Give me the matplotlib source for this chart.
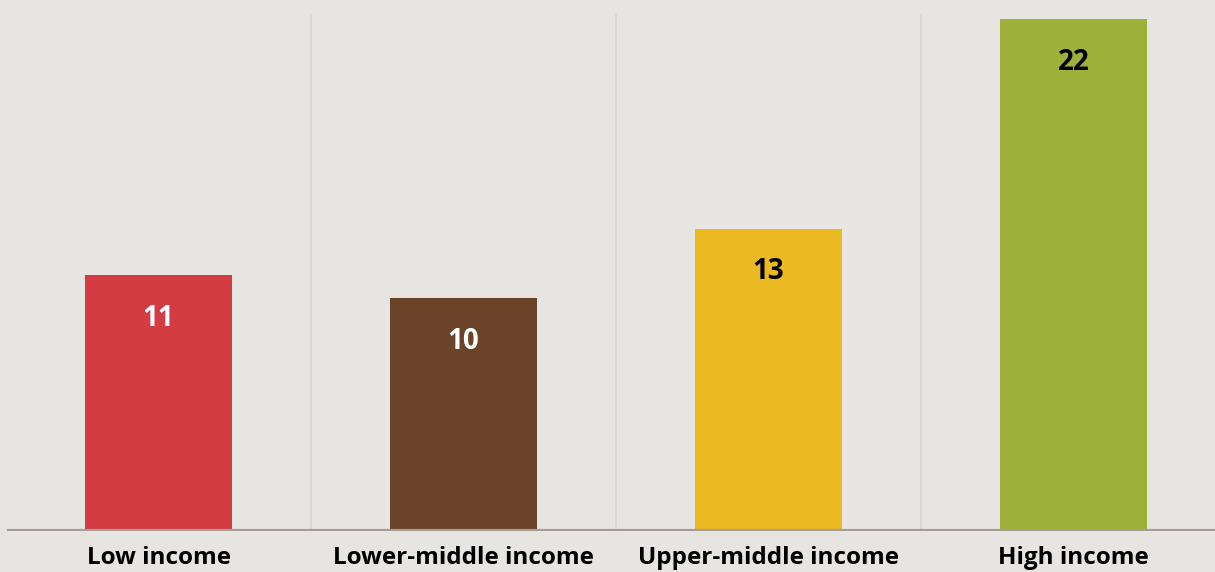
import matplotlib
matplotlib.use("Agg")
import matplotlib.pyplot as plt

categories = ["Low income", "Lower-middle income", "Upper-middle income", "High income"]
values = [11, 10, 13, 22]
bar_colors = ["#d33c42", "#6b4328", "#ebb922", "#9db13a"]
value_colors = ["white", "white", "black", "black"]

bg = "#e6e5e1"
plt.rcParams["font.family"] = ["Open Sans", "DejaVu Sans"]

fig = plt.figure(figsize=(12.15, 5.72), dpi=100, facecolor=bg)
ax = fig.add_axes([0, 41 / 572, 1, 531 / 572])
ax.set_facecolor(bg)

x = range(len(categories))
ax.bar(x, values, width=0.482, color=bar_colors, zorder=2)

# separators between groups
for i in range(len(categories) - 1):
    ax.vlines(i + 0.5, 0, 22.2, color="#d8d6d2", lw=1.2, zorder=1)

ax.axhline(0, xmin=9 / 1215, xmax=1, color="#a69c98", lw=3, zorder=3)

for i, v in enumerate(values):
    ax.annotate(str(v), (i, v), xytext=(0, -31), textcoords="offset points",
                ha="center", va="center", fontsize=20, fontweight="bold",
                color=value_colors[i], zorder=4)

ax.set_xlim(-0.5197, 3.4639)
ax.set_ylim(0, 22.82)
ax.set_xticks(list(x))
ax.set_xticklabels(categories, fontsize=17.5, fontweight="bold", color="black")
ax.tick_params(axis="x", length=0, pad=11)
ax.set_yticks([])
for s in ax.spines.values():
    s.set_visible(False)

fig.savefig("out.png", dpi=100, facecolor=bg)
